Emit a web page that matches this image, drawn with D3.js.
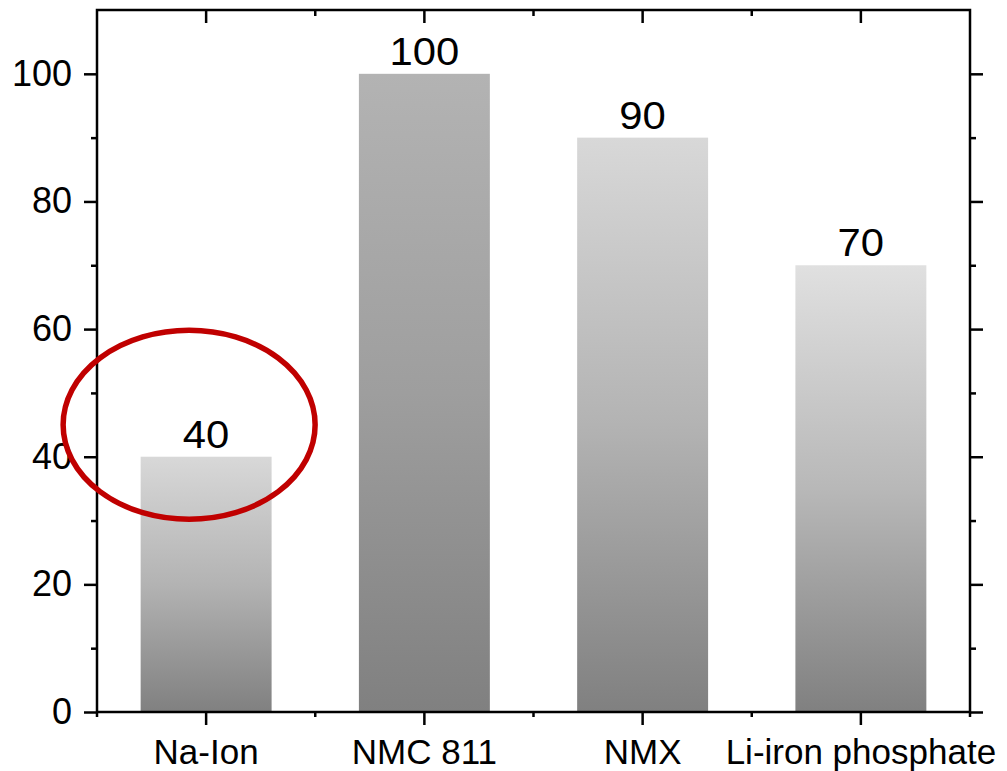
<!DOCTYPE html>
<html>
<head>
<meta charset="utf-8">
<script src="https://cdn.jsdelivr.net/npm/d3@7/dist/d3.min.js"></script>
<style>
  html, body { margin: 0; padding: 0; background: #fff; }
  svg { display: block; }
  text { font-family: "Liberation Sans", Arial, sans-serif; fill: #000; }
</style>
</head>
<body>
<svg id="chart" width="1007" height="771"></svg>
<script>
// Chart data
const categories = ["Na-Ion", "NMC 811", "NMX", "Li-iron phosphate"];
const values = [40, 100, 90, 70];
const barTopColors = ["#d8d8d8", "#b3b3b3", "#d8d8d8", "#e0e0e0"];
const barBottomColor = "#808080";
const yTicks = [0, 20, 40, 60, 80, 100];
const yMinorTicks = [10, 30, 50, 70, 90];
const yDomain = [0, 110];
// Highlight ring around the first bar (in data units for the vertical centre)
const highlight = { category: "Na-Ion", centerValue: 45 };

const svg = d3.select("#chart");
const margin = { left: 97, right: 37, top: 10, bottom: 59 };
const W = 1007, H = 771;
const plotW = W - margin.left - margin.right;
const plotH = H - margin.top - margin.bottom;

const x = d3.scaleBand()
  .domain(categories)
  .range([margin.left, margin.left + plotW])
  .paddingInner(0.4)
  .paddingOuter(0.2);

const y = d3.scaleLinear()
  .domain(yDomain)
  .range([margin.top + plotH, margin.top]);

// Vertical gradients per bar (light top, slightly eased towards the dark base)
const defs = svg.append("defs");
categories.forEach((c, i) => {
  const g = defs.append("linearGradient")
    .attr("id", "grad" + i)
    .attr("x1", 0).attr("y1", 0).attr("x2", 0).attr("y2", 1);
  const mix = d3.interpolateRgb(barTopColors[i], barBottomColor);
  g.append("stop").attr("offset", "0%").attr("stop-color", barTopColors[i]);
  g.append("stop").attr("offset", "50%").attr("stop-color", mix(0.42));
  g.append("stop").attr("offset", "100%").attr("stop-color", barBottomColor);
});

const data = categories.map((c, i) => ({ c, v: values[i], i }));

// Bars
svg.append("g").selectAll("rect")
  .data(data)
  .join("rect")
  .attr("x", d => x(d.c))
  .attr("width", x.bandwidth())
  .attr("y", d => y(d.v))
  .attr("height", d => y(0) - y(d.v))
  .attr("fill", d => `url(#grad${d.i})`);

// Value labels
svg.append("g").selectAll("text")
  .data(data)
  .join("text")
  .attr("transform", d => `translate(${x(d.c) + x.bandwidth() / 2},${y(d.v) - 9}) scale(1.1,1)`)
  .attr("text-anchor", "middle")
  .style("font-size", "38px")
  .text(d => d.v);

// Axes
const tickW = 2.5;
const left = svg.append("g")
  .attr("transform", `translate(${margin.left},0)`)
  .call(d3.axisLeft(y).tickValues(yTicks).tickSize(13).tickSizeOuter(0).tickPadding(12));
left.selectAll("text").style("font-size", "36px");
left.selectAll("line").attr("stroke-width", tickW);
left.select(".domain").remove();

svg.append("g")
  .attr("transform", `translate(${margin.left},0)`)
  .call(d3.axisLeft(y).tickValues(yMinorTicks).tickSize(6).tickFormat(""))
  .call(g => g.select(".domain").remove())
  .selectAll("line").attr("stroke-width", tickW);

const right = svg.append("g")
  .attr("transform", `translate(${margin.left + plotW},0)`);
right.call(d3.axisLeft(y).tickValues(yTicks).tickSize(-13).tickFormat(""))
  .call(g => g.select(".domain").remove())
  .selectAll("line").attr("stroke-width", tickW);
svg.append("g")
  .attr("transform", `translate(${margin.left + plotW},0)`)
  .call(d3.axisLeft(y).tickValues(yMinorTicks).tickSize(-6).tickFormat(""))
  .call(g => g.select(".domain").remove())
  .selectAll("line").attr("stroke-width", tickW);

// Category boundaries for minor ticks on the horizontal axes
const step = x.step();
const boundaries = d3.range(categories.length - 1).map(i =>
  x(categories[i]) + x.bandwidth() + (step - x.bandwidth()) / 2);
const xEdges = [margin.left, margin.left + plotW];

const bottomY = y(0);
const bottom = svg.append("g")
  .attr("transform", `translate(0,${bottomY})`)
  .call(d3.axisBottom(x).tickSize(13).tickSizeOuter(0).tickPadding(14));
bottom.select(".domain").remove();
bottom.selectAll("line").attr("stroke-width", tickW);
bottom.selectAll("text").style("font-size", "35px");

svg.append("g").selectAll("line")
  .data(boundaries.concat(xEdges))
  .join("line")
  .attr("x1", d => d).attr("x2", d => d)
  .attr("y1", bottomY).attr("y2", bottomY + 5)
  .attr("stroke", "#000").attr("stroke-width", tickW);

const topY = y(yDomain[1]);
svg.append("g").selectAll("line")
  .data(categories)
  .join("line")
  .attr("x1", d => x(d) + x.bandwidth() / 2).attr("x2", d => x(d) + x.bandwidth() / 2)
  .attr("y1", topY).attr("y2", topY + 13)
  .attr("stroke", "#000").attr("stroke-width", tickW);
svg.append("g").selectAll("line")
  .data(boundaries)
  .join("line")
  .attr("x1", d => d).attr("x2", d => d)
  .attr("y1", topY).attr("y2", topY + 6)
  .attr("stroke", "#000").attr("stroke-width", tickW);

// Frame
svg.append("rect")
  .attr("x", margin.left).attr("y", topY)
  .attr("width", plotW).attr("height", bottomY - topY)
  .attr("fill", "none").attr("stroke", "#000").attr("stroke-width", tickW);

// Highlight ring
svg.append("ellipse")
  .attr("cx", x(highlight.category) + x.bandwidth() / 2 - 17)
  .attr("cy", y(highlight.centerValue))
  .attr("rx", 126)
  .attr("ry", 94.5)
  .attr("fill", "none")
  .attr("stroke", "#c00000")
  .attr("stroke-width", 5.5);
</script>
</body>
</html>
